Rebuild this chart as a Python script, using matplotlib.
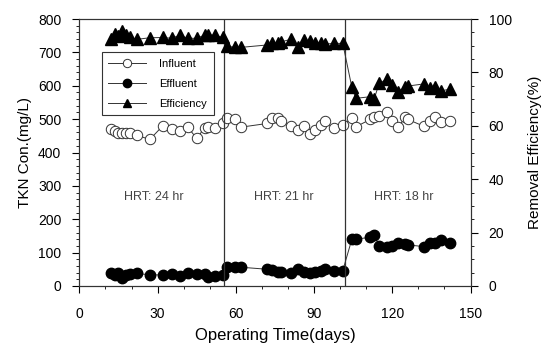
import matplotlib.pyplot as plt
from matplotlib.ticker import MultipleLocator

plt.rcParams['font.family'] = ['Liberation Sans', 'DejaVu Sans']

# Dias de muestreo (tres etapas de HRT)
dias = [12, 13.5, 15, 16.5, 18, 19.5, 22, 27, 32, 35.5, 38.5, 41.5, 45, 48, 49.5, 52, 55,
        56.5, 59.5, 62, 72, 74, 76, 77.5, 81, 84, 86, 88.5, 90.5, 92.5, 94, 97.5, 101,
        104.5, 106, 111.5, 113, 115, 118, 120, 122, 125, 126, 132, 134.5, 136.5, 138.5, 142]

influent = [469, 464, 459, 459, 459, 459, 452, 439, 480, 469, 464, 477, 442, 474, 477, 474, 487,
            502, 499, 476, 487, 502, 502, 495, 479, 467, 479, 455, 467, 482, 495, 472, 482,
            502, 477, 499, 507, 509, 522, 495, 475, 505, 499, 479, 495, 507, 492, 495]

effluent = [40, 33, 38, 23, 33, 36, 38, 33, 33, 36, 30, 40, 36, 36, 28, 30, 33,
            56, 56, 56, 50, 48, 43, 43, 40, 50, 43, 40, 43, 46, 50, 46, 46,
            140, 140, 146, 153, 120, 118, 120, 128, 126, 123, 118, 128, 130, 138, 130]

efficiency = [92.4, 94.3, 93.6, 95.6, 94.0, 93.1, 92.4, 93.0, 93.1, 92.8, 94.0, 92.8, 92.8, 94.0, 94.0, 94.0, 93.1,
              89.9, 89.4, 89.4, 90.3, 90.9, 91.1, 91.5, 92.4, 89.6, 92.1, 91.8, 91.1, 91.1, 90.6, 90.9, 90.9,
              74.4, 70.3, 70.9, 69.9, 76.1, 77.4, 75.3, 72.8, 74.4, 74.9, 75.7, 74.0, 74.4, 73.1, 73.7]

cambios_hrt = [55.5, 102]
etiquetas_hrt = ['HRT: 24 hr', 'HRT: 21 hr', 'HRT: 18 hr']
pos_etiquetas = [28.5, 78.5, 124.5]

fig = plt.figure(figsize=(5.51, 3.47), dpi=100)
ax = fig.add_axes([0.144, 0.176, 0.710, 0.769])
ax2 = ax.twinx()

# Curvas en el eje izquierdo
l1, = ax.plot(dias, influent, color='#333333', linewidth=0.7, marker='o', markersize=7.5,
              markerfacecolor='white', markeredgecolor='#333333', markeredgewidth=0.7, label='Influent')
l2, = ax.plot(dias, effluent, color='#333333', linewidth=0.7, marker='o', markersize=7.5,
              markerfacecolor='black', markeredgecolor='black', label='Effluent')
# Eficiencia en el eje derecho
l3, = ax2.plot(dias, efficiency, color='#333333', linewidth=0.7, marker='^', markersize=8,
               markerfacecolor='black', markeredgecolor='black', label='Efficiency')

for x in cambios_hrt:
    ax.axvline(x, color='#333333', linewidth=0.9)
for x, txt in zip(pos_etiquetas, etiquetas_hrt):
    ax.text(x, 266, txt, ha='center', va='center', fontsize=9, color='#444444')

ax.set_xlim(0, 150)
ax.set_ylim(0, 800)
ax2.set_ylim(0, 100)
ax.xaxis.set_major_locator(MultipleLocator(30))
ax.xaxis.set_minor_locator(MultipleLocator(10))
ax.yaxis.set_major_locator(MultipleLocator(100))
ax.yaxis.set_minor_locator(MultipleLocator(20))
ax2.yaxis.set_major_locator(MultipleLocator(20))
ax2.yaxis.set_minor_locator(MultipleLocator(5))

for a in (ax, ax2):
    a.tick_params(which='major', direction='out', length=5, width=0.8, labelsize=10, pad=8)
    a.tick_params(which='minor', direction='out', length=2.5, width=0.6)
    for s in a.spines.values():
        s.set_linewidth(0.8)
        s.set_color('#333333')
ax.tick_params(axis='x', which='major', pad=10)

ax.set_xlabel('Operating Time(days)', fontsize=12, labelpad=5)
ax.set_ylabel('TKN Con.(mg/L)', fontsize=11, labelpad=4)
ax2.set_ylabel('Removal Efficiency(%)', fontsize=11, labelpad=12)

leg = ax2.legend(handles=[l1, l2, l3], loc='upper left', bbox_to_anchor=(0.057, 0.877),
                 fontsize=8, handlelength=3.4, handletextpad=1.2, labelspacing=0.9,
                 markerscale=0.8, fancybox=False, framealpha=1, edgecolor='#333333',
                 borderpad=0.6, borderaxespad=0)
leg.get_frame().set_linewidth(0.8)

plt.savefig('out.png', dpi=100)
plt.close()
